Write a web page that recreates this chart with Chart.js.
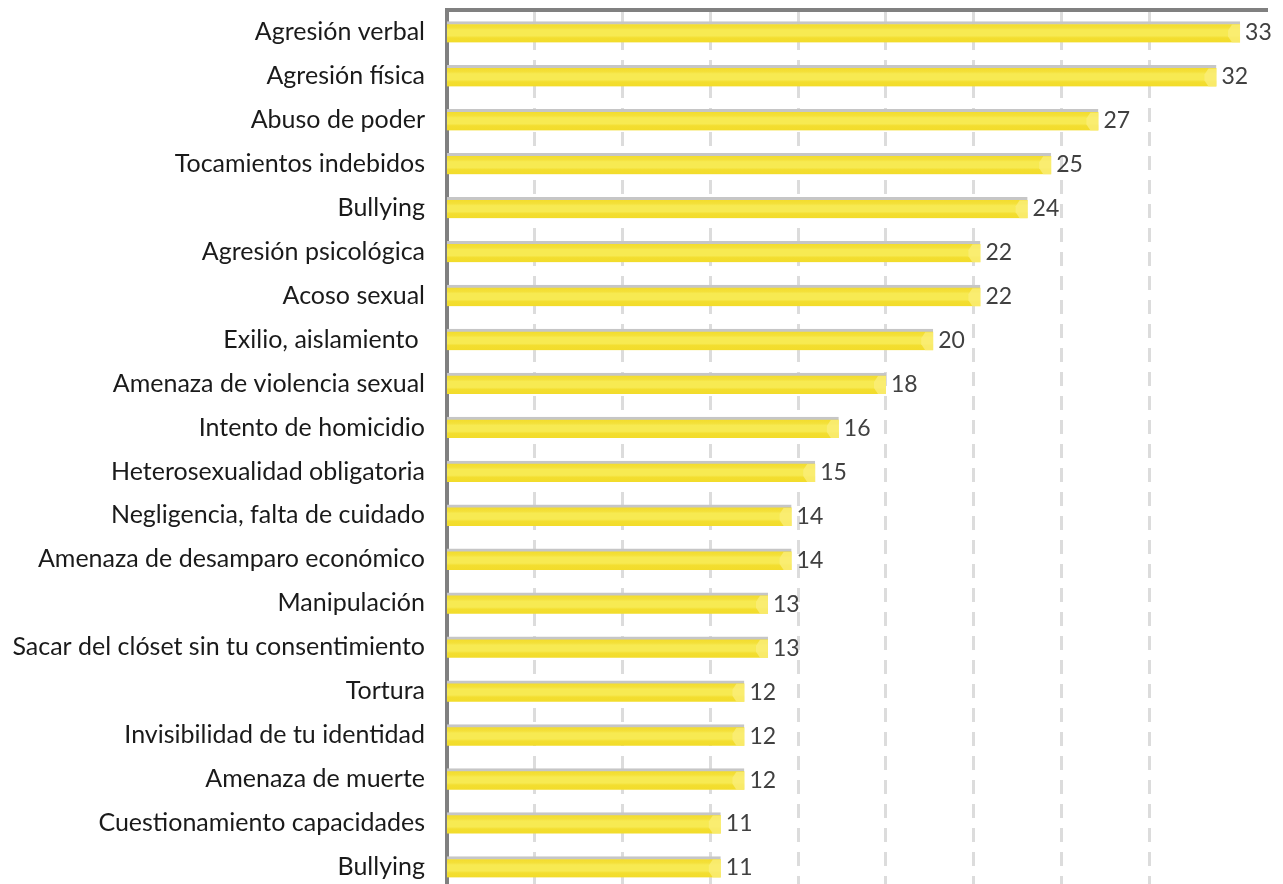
<!DOCTYPE html>
<html>
<head>
<meta charset="utf-8">
<script src="https://cdn.jsdelivr.net/npm/chart.js@4"></script>
<style>
	html, body { margin: 0; padding: 0; background: #fff; overflow: hidden; }
	#wrap { width: 1283px; height: 889px; }
</style>
</head>
<body>
<div id="wrap"><canvas id="bars" width="1283" height="889"></canvas></div>
<script>
var labels = ['Agresión verbal', 'Agresión física', 'Abuso de poder', 'Tocamientos indebidos', 'Bullying',
	'Agresión psicológica', 'Acoso sexual', 'Exilio, aislamiento ', 'Amenaza de violencia sexual',
	'Intento de homicidio', 'Heterosexualidad obligatoria', 'Negligencia, falta de cuidado',
	'Amenaza de desamparo económico', 'Manipulación', 'Sacar del clóset sin tu consentimiento',
	'Tortura', 'Invisibilidad de tu identidad', 'Amenaza de muerte', 'Cuestionamiento capacidades', 'Bullying'];
var values = [33, 32, 27, 25, 24, 22, 22, 20, 18, 16, 15, 14, 14, 13, 13, 12, 12, 12, 11, 11];

var FONT = 'Lato, "Open Sans", sans-serif';

function barFill(context) {
	var chart = context.chart;
	var y = chart.scales.y;
	if (!y || y.top === undefined) return '#f4e236';
	var c = y.getPixelForValue(context.dataIndex);
	var g = chart.ctx.createLinearGradient(0, c - 10.5, 0, c + 10.5);
	g.addColorStop(0, '#f2da22');
	g.addColorStop(0.3, '#f4e03a');
	g.addColorStop(0.4, '#f7ea52');
	g.addColorStop(0.68, '#f7ea52');
	g.addColorStop(0.78, '#f3de30');
	g.addColorStop(1, '#f2dc2a');
	return g;
}

// light end cap + value label at the tip of each bar
var tipPlugin = {
	id: 'tips',
	afterDatasetsDraw: function(chart) {
		var ctx = chart.ctx;
		var meta = chart.getDatasetMeta(0);
		ctx.save();
		meta.data.forEach(function(bar, i) {
			var top = bar.y - bar.height / 2 + 3;
			var bot = bar.y + bar.height / 2;
			ctx.fillStyle = 'rgba(250, 238, 120, 0.8)';
			ctx.beginPath();
			ctx.moveTo(bar.x, top);
			ctx.lineTo(bar.x - 8, top);
			ctx.lineTo(bar.x - 12, top + 6);
			ctx.lineTo(bar.x - 12, bot - 6);
			ctx.lineTo(bar.x - 8, bot);
			ctx.lineTo(bar.x, bot);
			ctx.closePath();
			ctx.fill();

			ctx.fillStyle = '#404040';
			ctx.font = '23px ' + FONT;
			ctx.textAlign = 'left';
			ctx.textBaseline = 'middle';
			ctx.fillText(values[i], bar.x + 5, bar.y + 1);
		});
		ctx.restore();
	}
};

var ctx = document.getElementById('bars');
var chart = new Chart(ctx, {
	type: 'bar',
	data: {
		labels: labels,
		datasets: [{
			data: values,
			base: -0.6,
			backgroundColor: barFill,
			borderColor: '#c6c6c6',
			borderWidth: { top: 3, right: 0, bottom: 0, left: 0 },
			borderSkipped: false,
			barThickness: 21
		}]
	},
	plugins: [tipPlugin],
	options: {
		indexAxis: 'y',
		responsive: false,
		animation: false,
		layout: { padding: { top: 0, right: 17, bottom: 0, left: 0 } },
		plugins: {
			legend: { display: false },
			tooltip: { enabled: false }
		},
		scales: {
			x: {
				display: false,
				min: -0.6,
				max: 34.1
			},
			x2: {
				position: 'top',
				min: 0,
				max: 9.33,
				afterBuildTicks: function(scale) {
					scale.ticks = scale.ticks.filter(function(t) { return Number.isInteger(t.value) && t.value > 0; });
				},
				afterFit: function(scale) { scale.height = 10; },
				ticks: { display: false, stepSize: 1 },
				grid: {
					color: '#dcdcdc',
					lineWidth: 3,
					drawTicks: false
				},
				border: {
					display: true,
					color: '#808080',
					width: 4,
					dash: [14, 10]
				}
			},
			y: {
				afterFit: function(scale) {
					scale.width = 447;
					scale.paddingTop = 0;
					scale.paddingBottom = 0;
				},
				ticks: {
					color: '#1a1a1a',
					font: { family: FONT, size: 25 },
					padding: 22
				},
				grid: { display: false, drawTicks: false },
				border: { display: true, color: '#808080', width: 4 }
			}
		}
	}
});
</script>
</body>
</html>
